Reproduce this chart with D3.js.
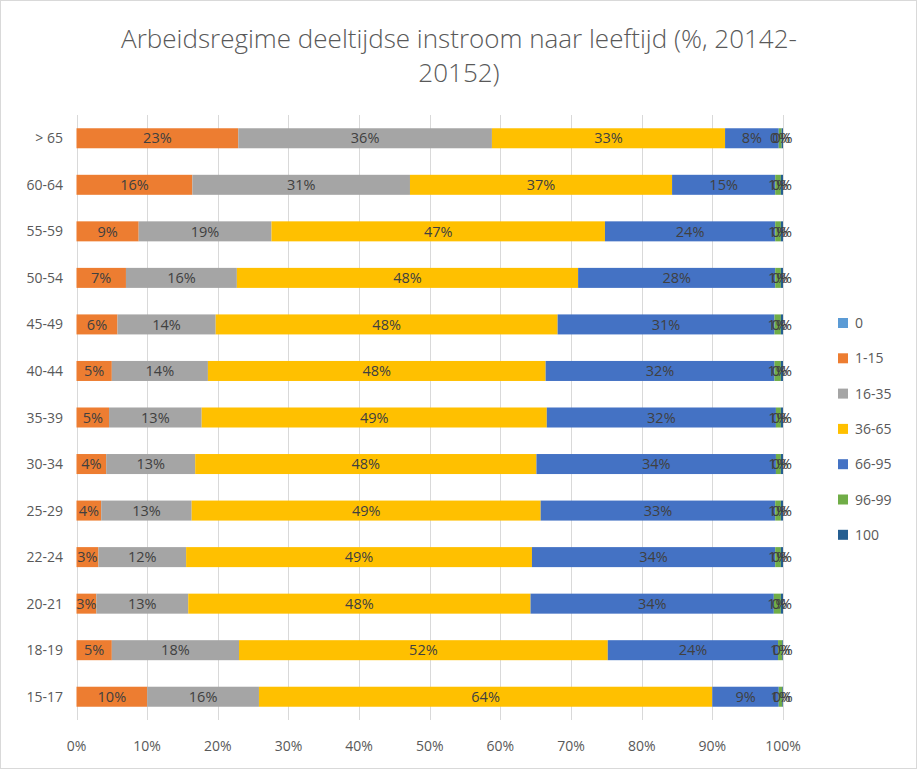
<!DOCTYPE html>
<html><head><meta charset="utf-8">
<script src="https://cdn.jsdelivr.net/npm/d3@7"></script>
<style>body{margin:0;background:#fff}svg{display:block}</style>
</head><body>
<svg id="c" width="918" height="770"></svg>
<script>
const categories = ["> 65","60-64","55-59","50-54","45-49","40-44","35-39","30-34","25-29","22-24","20-21","18-19","15-17"];
const seriesNames = ["0","1-15","16-35","36-65","66-95","96-99","100"];
const s0     = [0,0,0,0,0,0,0,0,0,0,0,0,0];
const s1_15  = [22.9,16.4,8.8,7.0,5.8,5.0,4.6,4.2,3.5,3.1,2.8,5.0,10.0];
const s16_35 = [35.9,30.8,18.8,15.7,13.9,13.6,13.1,12.6,12.8,12.4,13.0,18.0,15.8];
const s36_65 = [33.0,37.1,47.2,48.3,48.4,47.8,48.8,48.3,49.4,48.9,48.4,52.2,64.1];
const s66_95 = [7.6,14.6,24.1,27.9,30.7,32.4,32.4,33.9,33.2,34.4,34.4,24.1,9.4];
const s96_99 = [0.4,0.8,0.8,0.8,0.9,0.9,0.7,0.7,0.8,0.8,1.0,0.6,0.5];
const s100   = [0.2,0.3,0.3,0.3,0.3,0.3,0.3,0.3,0.3,0.3,0.3,0.1,0.1];
const xTicks = [0,0.1,0.2,0.3,0.4,0.5,0.6,0.7,0.8,0.9,1];
const colors = ["#5B9BD5","#ED7D31","#A5A5A5","#FFC000","#4472C4","#70AD47","#255E91"];
const title = ["Arbeidsregime deeltijdse instroom naar leeftijd (%, 20142-","20152)"];

const allSeries = [s0,s1_15,s16_35,s36_65,s66_95,s96_99,s100];
const rows = categories.map((c,i)=>{
  const r={cat:c};
  seriesNames.forEach((s,j)=>r[s]=allSeries[j][i]);
  return r;
});
const stack = d3.stack().keys(seriesNames).offset(d3.stackOffsetExpand);
const layers = stack(rows);

const svg = d3.select("#c");
const font = "'Open Sans', 'Liberation Sans', sans-serif";
svg.append("rect").attr("x",0.5).attr("y",0.5).attr("width",916).attr("height",768)
  .attr("fill","#fff").attr("stroke","#d9d9d9");

const x = d3.scaleLinear().domain([0,1]).range([76.5,783]);
const y = d3.scaleBand().domain(categories).range([115,720]).paddingInner(0.57).paddingOuter(0.285);

// gridlines
svg.append("g").selectAll("line").data(xTicks).join("line")
  .attr("x1",d=>Math.round(x(d))+0.5).attr("x2",d=>Math.round(x(d))+0.5)
  .attr("y1",115).attr("y2",720).attr("stroke","#d9d9d9").attr("stroke-width",1);

// bars
const g = svg.append("g");
layers.forEach((L,j)=>{
  g.append("g").attr("fill",colors[j]).selectAll("rect").data(L).join("rect")
    .attr("x",d=>x(d[0])).attr("width",d=>Math.max(0,x(d[1])-x(d[0])))
    .attr("y",d=>y(d.data.cat)).attr("height",y.bandwidth());
});
// labels
layers.forEach((L,j)=>{
  g.append("g").selectAll("text").data(L.filter(d=>d.data[seriesNames[j]]>0)).join("text")
    .attr("x",d=>(x(d[0])+x(d[1]))/2).attr("y",d=>y(d.data.cat)+y.bandwidth()/2)
    .attr("dy","0.36em").attr("text-anchor","middle")
    .attr("font-family",font).attr("font-size",14.5).attr("fill","#404040")
    .text(d=>Math.round(d.data[seriesNames[j]])+"%");
});

// y axis labels
svg.append("g").selectAll("text").data(categories).join("text")
  .attr("x",63).attr("y",d=>y(d)+y.bandwidth()/2).attr("dy","0.36em")
  .attr("text-anchor","end").attr("font-family",font).attr("font-size",14).attr("fill","#595959")
  .text(d=>d);

// x axis labels
svg.append("g").selectAll("text").data(xTicks).join("text")
  .attr("x",d=>x(d)).attr("y",746).attr("dy","0.36em")
  .attr("text-anchor","middle").attr("font-family",font).attr("font-size",14).attr("fill","#595959")
  .text(d3.format(".0%"));

// title
svg.append("g").selectAll("text").data(title).join("text")
  .attr("x",459).attr("y",(d,i)=>48+i*34).attr("text-anchor","middle")
  .attr("font-family",font).attr("font-weight",300).attr("font-size",26).attr("fill","#595959")
  .text(d=>d);

// legend
const lg = svg.append("g").selectAll("g").data(seriesNames).join("g")
  .attr("transform",(d,i)=>`translate(838,${323+i*35.3})`);
lg.append("rect").attr("x",0).attr("y",-5).attr("width",10).attr("height",10).attr("fill",(d,i)=>colors[i]);
lg.append("text").attr("x",17).attr("y",0).attr("dy","0.36em")
  .attr("font-family",font).attr("font-size",14).attr("fill","#595959").text(d=>d);
</script>
</body></html>
